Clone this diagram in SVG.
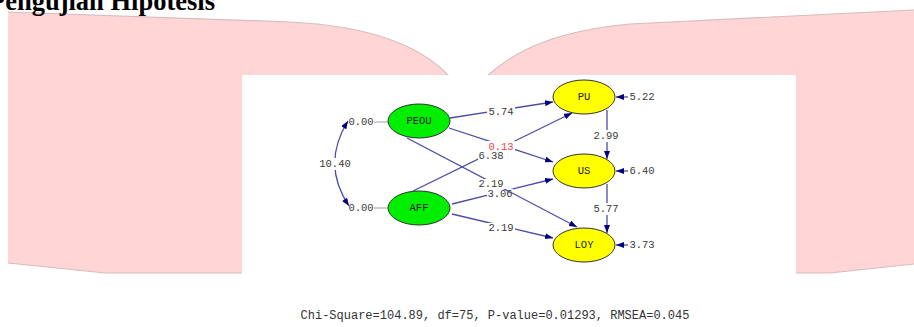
<svg xmlns="http://www.w3.org/2000/svg" width="914" height="327" viewBox="0 0 914 327">
<style>
.bg{fill:#ffd5d6}
.edge{fill:none;stroke:#d6bcbc;stroke-width:1.2}
.lat{stroke:#333;stroke-width:1}
.exo{fill:#00ee00}
.endo{fill:#ffff00}
.nl{font-family:"Liberation Mono",monospace;font-size:10.5px;fill:#222;text-anchor:middle;dominant-baseline:central}
.num{font-family:"Liberation Mono",monospace;font-size:10.5px;fill:#3a3a3a;text-anchor:middle;dominant-baseline:central}
.red{fill:#ff3a3a}
.path{stroke:#4c4ca6;stroke-width:1.3;fill:none}
.lb{fill:#fff}
.grey{stroke:#b0b0b0;stroke-width:1.2}
</style>
<defs>
<marker id="ah" viewBox="0 0 8 6" refX="8" refY="3" markerWidth="8" markerHeight="6" markerUnits="userSpaceOnUse" orient="auto-start-reverse">
<path d="M0,0 L8,3 L0,6 z" fill="#000080"/>
</marker>
</defs>
<rect width="914" height="327" fill="#fff"/>
<g id="background">
<path class="bg" d="M8,12 L290,22 C370,26 420,45 449,76 L449,273 L105,273 L8,263 Z"/>
<path class="edge" d="M8,12 L290,22 C370,26 420,45 449,76"/>
<path class="edge" d="M8,263 L105,273 L242,273"/>
<path class="bg" d="M487,76 C520,46 565,30 630,24 L914,10 L914,264 L830,273 L487,273 Z"/>
<path class="edge" d="M487,76 C520,46 565,30 630,24 L914,10"/>
<path class="edge" d="M796,273 L830,273 L914,264"/>
<rect x="242" y="75" width="554" height="200" fill="#fff"/>
</g>
<text x="-11" y="10" font-family="Liberation Serif,serif" font-weight="bold" font-size="26.5" fill="#000">Pengujian Hipotesis</text>
<g id="connectors">
<g id="c-aff-pu"><line class="path" x1="413" y1="191" x2="572" y2="113" marker-end="url(#ah)"/><rect class="lb" x="478" y="151" width="26" height="10"/><text class="num" x="491" y="156">6.38</text></g>
<g id="c-peou-us"><line class="path" x1="449" y1="128" x2="553" y2="162" marker-end="url(#ah)"/><rect class="lb" x="487" y="141" width="28" height="11"/><text class="num red" x="501" y="147">0.13</text></g>
<g id="c-peou-pu"><line class="path" x1="450" y1="118" x2="553" y2="102" marker-end="url(#ah)"/><rect class="lb" x="487" y="107" width="28" height="11"/><text class="num" x="501" y="112">5.74</text></g>
<g id="c-aff-us"><line class="path" x1="452" y1="204" x2="553" y2="179" marker-end="url(#ah)"/><rect class="lb" x="487" y="189" width="26" height="10"/><text class="num" x="500" y="194">3.06</text></g>
<g id="c-peou-loy"><line class="path" x1="407" y1="138" x2="577" y2="227" marker-end="url(#ah)"/><rect class="lb" x="477" y="179" width="28" height="10"/><text class="num" x="491" y="184">2.19</text></g>
<g id="c-aff-loy"><line class="path" x1="452" y1="214" x2="553" y2="238" marker-end="url(#ah)"/><rect class="lb" x="487" y="223" width="28" height="11"/><text class="num" x="501" y="228">2.19</text></g>
<g id="c-pu-us"><line class="path" x1="607" y1="110" x2="607" y2="159" marker-end="url(#ah)"/><rect class="lb" x="592" y="130" width="28" height="12"/><text class="num" x="606" y="136">2.99</text></g>
<g id="c-us-loy"><line class="path" x1="607" y1="184" x2="607" y2="233" marker-end="url(#ah)"/><rect class="lb" x="592" y="203" width="28" height="12"/><text class="num" x="606" y="209">5.77</text></g>
<g id="c-cov"><path class="path" d="M348,121 Q321,164 349,206" marker-start="url(#ah)" marker-end="url(#ah)"/><rect class="lb" x="319" y="158" width="32" height="12"/><text class="num" x="335" y="164">10.40</text></g>
<g id="c-err"><line class="grey" x1="374" y1="122" x2="388" y2="122"/><text class="num" x="361" y="122">0.00</text><line class="grey" x1="374" y1="208" x2="388" y2="208"/><text class="num" x="361" y="208">0.00</text><line class="path" x1="628" y1="97" x2="616" y2="97" marker-end="url(#ah)"/><text class="num" x="642" y="97">5.22</text><line class="path" x1="628" y1="171" x2="616" y2="171" marker-end="url(#ah)"/><text class="num" x="642" y="171">6.40</text><line class="path" x1="628" y1="245" x2="616" y2="245" marker-end="url(#ah)"/><text class="num" x="642" y="245">3.73</text></g>
</g>
<g id="PEOU"><ellipse class="lat exo" cx="419" cy="121" rx="31" ry="17"/><text class="nl" x="419" y="121">PEOU</text></g>
<g id="AFF"><ellipse class="lat exo" cx="419" cy="208" rx="31" ry="17"/><text class="nl" x="419" y="208">AFF</text></g>
<g id="PU"><ellipse class="lat endo" cx="584" cy="97" rx="31" ry="17"/><text class="nl" x="584" y="97">PU</text></g>
<g id="US"><ellipse class="lat endo" cx="584" cy="171" rx="31" ry="17"/><text class="nl" x="584" y="171">US</text></g>
<g id="LOY"><ellipse class="lat endo" cx="584" cy="245" rx="31" ry="17"/><text class="nl" x="584" y="245">LOY</text></g>
<text x="495" y="316" font-family="Liberation Mono,monospace" font-size="12" fill="#333" text-anchor="middle" dominant-baseline="central">Chi-Square=104.89, df=75, P-value=0.01293, RMSEA=0.045</text>
</svg>
